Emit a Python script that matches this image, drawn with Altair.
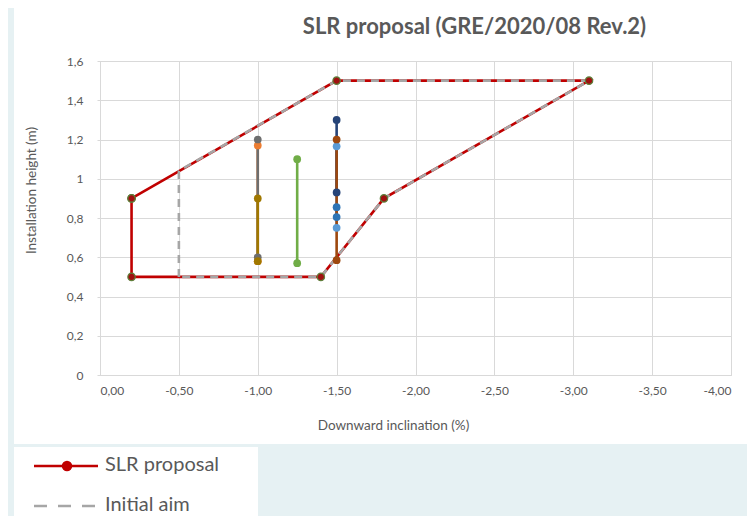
import altair as alt
import pandas as pd

# ---------------- data ----------------
title_text = "SLR proposal (GRE/2020/08 Rev.2)"
x_title = "Downward inclination (%)"
y_title = "Installation height (m)"
x_ticks = [0.0, -0.5, -1.0, -1.5, -2.0, -2.5, -3.0, -3.5, -4.0]
y_ticks = [0.0, 0.2, 0.4, 0.6, 0.8, 1.0, 1.2, 1.4, 1.6]

# SLR proposal polygon
slr_x = [-0.2, -1.5, -3.1, -1.8, -1.4, -0.2, -0.2]
slr_y = [0.9, 1.5, 1.5, 0.9, 0.5, 0.5, 0.9]
# Initial aim polygon
aim_x = [-0.5, -0.5, -1.5, -3.1, -1.8, -1.4, -0.5]
aim_y = [0.5, 1.04, 1.5, 1.5, 0.9, 0.5, 0.5]

# vertical measurement series (drawing order of lines)
meas_names = ["orange", "lightblue", "gray", "gold", "green", "navy", "blue", "brown"]
meas_x = [-1.0, -1.5, -1.0, -1.0, -1.25, -1.5, -1.5, -1.5]
meas_top = [1.17, 1.165, 1.2, 0.9, 1.1, 1.3, 0.855, 1.2]
meas_bottom = [0.58, 0.75, 0.6, 0.58, 0.57, 0.93, 0.805, 0.585]
meas_colors = ["#ED7D31", "#5B9BD5", "#6E6E6E", "#A07800", "#70AD47", "#264478", "#2E75B6", "#9E480E"]
# drawing order of markers
marker_order = ["orange", "lightblue", "gray", "brown", "gold", "green", "navy", "blue"]

legend_labels = ["SLR proposal", "Initial aim"]

RED = "#C00000"
AIM_GRAY = "#A6A6A6"
TXT = "#595959"
GRID = "#D9D9D9"
BG_BLUE = "#E6F1F3"
FONT = "Lato"

# ---------------- scales / axes ----------------
x_enc = alt.X(
    "x:Q",
    scale=alt.Scale(domain=[-4, 0], reverse=True, nice=False, zero=False),
    axis=alt.Axis(
        values=x_ticks,
        labelExpr="(datum.value < 0 ? '-' : '') + replace(format(abs(datum.value), '.2f'), '.', ',')",
        title=x_title,
        grid=True, gridColor=GRID, domainColor=GRID, ticks=False,
        labelPadding=10, labelFontSize=12, labelColor=TXT, labelFont=FONT,
        titleFontSize=13.5, titleColor=TXT, titleFont=FONT, titleFontWeight="normal",
        titleX=293, titleY=50, titleBaseline="middle", titleAlign="center",
    ),
)
y_enc = alt.Y(
    "y:Q",
    scale=alt.Scale(domain=[0, 1.6], nice=False),
    axis=alt.Axis(
        values=y_ticks,
        labelExpr="replace(format(datum.value, '.1~f'), '.', ',')",
        title=y_title,
        grid=True, gridColor=GRID, domainColor=GRID, ticks=True, tickColor=GRID, tickSize=3,
        labelPadding=14, labelFontSize=12, labelColor=TXT, labelFont=FONT,
        titleFontSize=13.5, titleColor=TXT, titleFont=FONT, titleFontWeight="normal",
        titleX=-69, titleY=129, titleBaseline="middle", titleAlign="center", titleAngle=270,
    ),
)

one = pd.DataFrame({"k": [0]})

# ---------------- decoration (background panels) ----------------
decor = [
    alt.Chart(one).mark_rect(color=BG_BLUE).encode(
        x=alt.value(-92), x2=alt.value(-86), y=alt.value(-53), y2=alt.value(470)),
    alt.Chart(one).mark_rect(color=BG_BLUE).encode(
        x=alt.value(-86), x2=alt.value(660), y=alt.value(383), y2=alt.value(386)),
    alt.Chart(one).mark_rect(color=BG_BLUE).encode(
        x=alt.value(158), x2=alt.value(660), y=alt.value(386), y2=alt.value(470)),
]

# ---------------- data layers ----------------
slr_df = pd.DataFrame({"x": slr_x, "y": slr_y, "o": range(len(slr_x))})
aim_df = pd.DataFrame({"x": aim_x, "y": aim_y, "o": range(len(aim_x))})

slr_line = alt.Chart(slr_df).mark_line(color=RED, strokeWidth=2.6).encode(
    x=x_enc, y=y_enc, order="o:Q")
aim_line = alt.Chart(aim_df).mark_line(color=AIM_GRAY, strokeWidth=2.6, strokeDash=[8, 6]).encode(
    x=x_enc, y=y_enc, order="o:Q")

meas_lines = []
meas_pts = {}
for name, mx, top, bot, col in zip(meas_names, meas_x, meas_top, meas_bottom, meas_colors):
    df = pd.DataFrame({"x": [mx, mx], "y": [top, bot], "o": [0, 1]})
    meas_lines.append(
        alt.Chart(df).mark_line(color=col, strokeWidth=2.6).encode(x=x_enc, y=y_enc, order="o:Q"))
    meas_pts[name] = alt.Chart(df).mark_point(
        filled=True, color=col, size=60, opacity=1).encode(x=x_enc, y=y_enc)

slr_pts = alt.Chart(slr_df).mark_point(
    filled=True, fill="#A01010", stroke="#5E7E3A", strokeWidth=1.2, size=55, opacity=1
).encode(x=x_enc, y=y_enc)

# ---------------- legend (manual, Excel style) ----------------
legend = [
    alt.Chart(one).mark_rule(color=RED, strokeWidth=2.6).encode(
        x=alt.value(-66), x2=alt.value(-2), y=alt.value(405)),
    alt.Chart(one).mark_point(filled=True, color=RED, size=110, opacity=1).encode(
        x=alt.value(-33), y=alt.value(405)),
    alt.Chart(one).mark_text(align="left", baseline="middle", font=FONT, fontSize=20, color=TXT).encode(
        x=alt.value(5), y=alt.value(404), text=alt.value(legend_labels[0])),
    alt.Chart(one).mark_rule(color=AIM_GRAY, strokeWidth=2.6, strokeDash=[13, 11]).encode(
        x=alt.value(-66), x2=alt.value(-2), y=alt.value(445)),
    alt.Chart(one).mark_text(align="left", baseline="middle", font=FONT, fontSize=20, color=TXT).encode(
        x=alt.value(5), y=alt.value(444), text=alt.value(legend_labels[1])),
]

layers = decor + [slr_line, aim_line] + meas_lines + [meas_pts[n] for n in marker_order] + [slr_pts] + legend

chart = alt.layer(*layers).properties(
    width=631,
    height=314,
    padding={"left": 92, "top": 53, "right": 16, "bottom": 141},
    autosize=alt.AutoSizeParams(type="none"),
    title=alt.TitleParams(
        title_text, font=FONT, fontSize=22, fontWeight="bold", color=TXT,
        anchor="middle", dx=59, dy=54, offset=13, baseline="middle",
    ),
).configure_view(stroke=None).configure(background="white")

chart.save("out.html", embed_options={"renderer": "svg", "actions": False})
